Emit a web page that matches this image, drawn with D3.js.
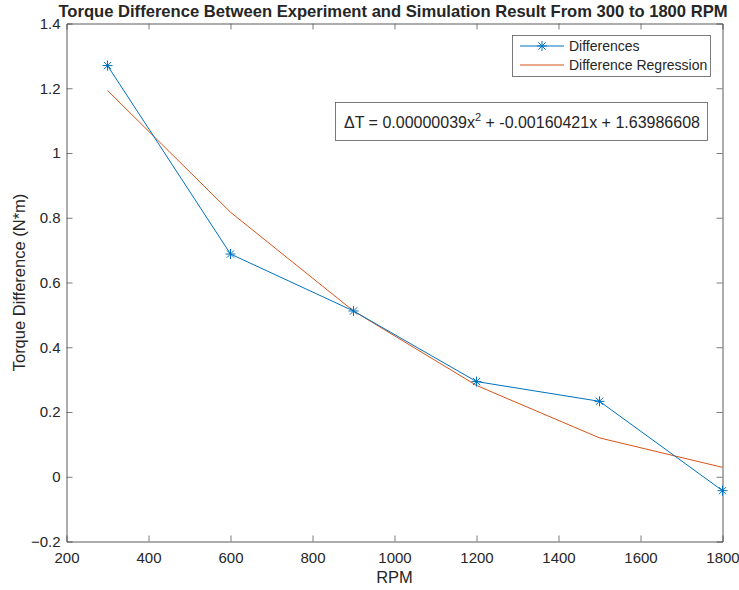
<!DOCTYPE html>
<html>
<head>
<meta charset="utf-8">
<script src="https://cdn.jsdelivr.net/npm/d3@7"></script>
<style>
  html, body { margin: 0; padding: 0; background: #fff; }
  svg { display: block; }
  text { font-family: "Liberation Sans", Arial, Helvetica, sans-serif; fill: #262626; }
</style>
</head>
<body>
<svg id="chart" width="739" height="590"></svg>
<script>
// Measured RPM points
const rpm = [300, 600, 900, 1200, 1500, 1800];
// Torque difference between experiment and simulation (N*m)
const differences = [1.270, 0.688, 0.512, 0.294, 0.233, -0.043];
// Quadratic regression curve evaluated at the same RPM points
const regression = [1.193, 0.817, 0.512, 0.282, 0.120, 0.029];

const xTicks = [200, 400, 600, 800, 1000, 1200, 1400, 1600, 1800];
const yTicks = [-0.2, 0, 0.2, 0.4, 0.6, 0.8, 1, 1.2, 1.4];

const titleText = "Torque Difference Between Experiment and Simulation Result From 300 to 1800 RPM";
const xLabel = "RPM";
const yLabel = "Torque Difference (N*m)";
const seriesNames = ["Differences", "Difference Regression"];

const blue = "#0072BD", orange = "#D95319", axisColor = "#5a5a5a", textColor = "#262626";

const svg = d3.select("#chart");
const m = { left: 66.5, right: 722.5, top: 23.5, bottom: 541.5 };

const x = d3.scaleLinear().domain([200, 1800]).range([m.left, m.right]);
const y = d3.scaleLinear().domain([-0.2, 1.4]).range([m.bottom, m.top]);

const fmtY = d => d === 0 ? "0" : (d === 1 ? "1" : d3.format(".1f")(d));

// Axes on all four sides, ticks pointing inward
const gx = svg.append("g").attr("transform", `translate(0,${m.bottom})`)
  .call(d3.axisBottom(x).tickValues(xTicks).tickSize(-6).tickPadding(11).tickFormat(d3.format("d")));
const gxTop = svg.append("g").attr("transform", `translate(0,${m.top})`)
  .call(d3.axisTop(x).tickValues(xTicks).tickSize(-6).tickFormat(""));
const gy = svg.append("g").attr("transform", `translate(${m.left},0)`)
  .call(d3.axisLeft(y).tickValues(yTicks).tickSize(-6).tickPadding(6).tickFormat(fmtY));
const gyR = svg.append("g").attr("transform", `translate(${m.right},0)`)
  .call(d3.axisRight(y).tickValues(yTicks).tickSize(-6).tickFormat(""));

[gx, gxTop, gy, gyR].forEach(g => {
  g.select(".domain").attr("stroke", axisColor).attr("stroke-width", 1);
  g.selectAll(".tick line").attr("stroke", axisColor).attr("stroke-width", 0.8);
  g.selectAll(".tick text").attr("fill", textColor).style("font-size", "15px")
    .style("font-family", "'Liberation Sans', Arial, sans-serif");
});
[gx, gxTop].forEach(g => g.selectAll(".tick").filter(d => d === 200 || d === 1800).select("line").remove());
[gy, gyR].forEach(g => g.selectAll(".tick").filter(d => d === -0.2 || d === 1.4).select("line").remove());

// Series lines
const line = d3.line().x((d, i) => x(rpm[i])).y(d => y(d));
svg.append("path").datum(regression).attr("d", line)
  .attr("fill", "none").attr("stroke", orange).attr("stroke-width", 1);
svg.append("path").datum(differences).attr("d", line)
  .attr("fill", "none").attr("stroke", blue).attr("stroke-width", 1);

// Asterisk markers
function asterisk(g, cx, cy, r) {
  const p = g.append("g").attr("transform", `translate(${cx},${cy})`)
    .attr("stroke", blue).attr("stroke-width", 1);
  p.append("line").attr("x1", -r).attr("x2", r).attr("y1", 0).attr("y2", 0);
  p.append("line").attr("x1", 0).attr("x2", 0).attr("y1", -r).attr("y2", r);
  const d = r * 0.72;
  p.append("line").attr("x1", -d).attr("x2", d).attr("y1", -d).attr("y2", d);
  p.append("line").attr("x1", -d).attr("x2", d).attr("y1", d).attr("y2", -d);
}
differences.forEach((v, i) => asterisk(svg, x(rpm[i]), y(v), 5));

// Title
svg.append("text").attr("x", 393).attr("y", 17).attr("text-anchor", "middle")
  .style("font-size", "16.6px").style("font-weight", "bold").attr("fill", "#000")
  .text(titleText);

// Axis labels
svg.append("text").attr("x", (m.left + m.right) / 2).attr("y", 583).attr("text-anchor", "middle")
  .style("font-size", "16.5px").text(xLabel);
svg.append("text").attr("transform", `translate(25,${(m.top + m.bottom) / 2}) rotate(-90)`)
  .attr("text-anchor", "middle").style("font-size", "16.5px").text(yLabel);

// Legend
const lg = svg.append("g");
lg.append("rect").attr("x", 512.5).attr("y", 35.5).attr("width", 198).attr("height", 41)
  .attr("fill", "#fff").attr("stroke", axisColor).attr("stroke-width", 0.8);
const rows = [46, 65];
lg.append("line").attr("x1", 520).attr("x2", 564).attr("y1", rows[0]).attr("y2", rows[0])
  .attr("stroke", blue).attr("stroke-width", 1);
asterisk(lg, 542, rows[0], 5);
lg.append("line").attr("x1", 520).attr("x2", 564).attr("y1", rows[1]).attr("y2", rows[1])
  .attr("stroke", orange).attr("stroke-width", 1);
seriesNames.forEach((s, i) => lg.append("text").attr("x", 569).attr("y", rows[i] + 5)
  .style("font-size", "14px").attr("fill", "#000").text(s));

// Regression equation annotation
const ann = svg.append("g");
ann.append("rect").attr("x", 335.5).attr("y", 102.5).attr("width", 372).attr("height", 38)
  .attr("fill", "#fff").attr("stroke", axisColor).attr("stroke-width", 0.8);
const t = ann.append("text").attr("x", 344).attr("y", 127.5).style("font-size", "16px").attr("fill", "#000");
t.append("tspan").text("\u0394T = 0.00000039x");
t.append("tspan").attr("dy", -7).style("font-size", "11px").text("2");
t.append("tspan").attr("dy", 7).text(" + -0.00160421x + 1.63986608");
</script>
</body>
</html>
